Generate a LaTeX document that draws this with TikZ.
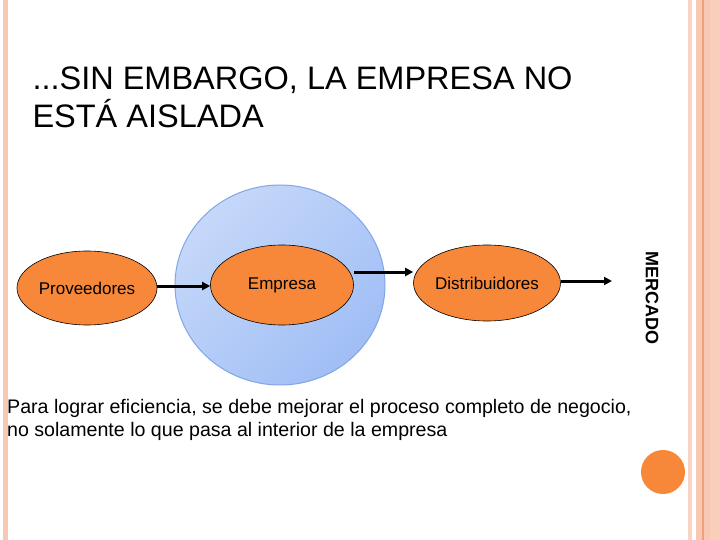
\documentclass[tikz,border=0pt]{standalone}
\usepackage{fontspec}
\setmainfont{Liberation Sans}
\usetikzlibrary{shapes.geometric,arrows.meta}
\definecolor{salmon}{RGB}{248,200,180}
\definecolor{salmonD}{RGB}{240,160,120}
\definecolor{orng}{RGB}{247,136,58}
\definecolor{bluef}{RGB}{160,190,245}
\definecolor{bluee}{RGB}{130,165,230}
\tikzset{oval/.style={ellipse,draw=black,line width=0.6pt,fill=orng,inner sep=0pt,font=\fontsize{17}{19}\selectfont},
 arr/.style={-{Triangle[length=8pt,width=8pt]},line width=3pt}}
\begin{document}
\begin{tikzpicture}[x=1pt,y=-1pt]
\useasboundingbox (0,0) rectangle (720,540);
\fill[salmon] (3,0) rectangle (8,540);
\fill[salmon!80] (688,0) rectangle (692,540);
\fill[salmon] (696,0) rectangle (720,540);
\fill[salmonD] (702,0) rectangle (703.5,540);
\fill[salmon!90!white] (710,0) rectangle (720,540);
\node[anchor=west,align=left,font=\fontsize{32.5}{38}\selectfont] (title) at (29,97) {...SIN EMBARGO, LA EMPRESA NO\\ESTÁ AISLADA};
\node[ellipse,draw=bluee,line width=1pt,left color=bluef!60,right color=bluef,shading angle=45,minimum width=210,minimum height=200] (mkt) at (280,285) {};
\node[oval,minimum width=140,minimum height=74] (prov) at (87,288) {Proveedores};
\node[oval,minimum width=143,minimum height=80] (emp) at (282,285) {Empresa};
\node[oval,minimum width=136,minimum height=76] (dist) at (487,283) {Distribuidores};
\coordinate (end) at (612,281);
\node[rotate=-90,font=\bfseries\fontsize{18}{20}\selectfont] (merc) at (652,298) {MERCADO};
\draw[arr] (prov.east |- 0,286) -- (emp.west |- 0,286);
\draw[arr] (emp.east |- 0,272) -- (dist.west |- 0,272);
\draw[arr] (dist.east |- end) -- (end);
\node[anchor=north west,align=left,inner sep=0pt,font=\fontsize{19.6}{23}\selectfont] (txt) at (7,399) {Para lograr eficiencia, se debe mejorar el proceso completo de negocio,\\no solamente lo que pasa al interior de la empresa};
\node[circle,fill=orng,minimum size=44,inner sep=0pt] (dot) at (663,472) {};
\end{tikzpicture}
\end{document}
